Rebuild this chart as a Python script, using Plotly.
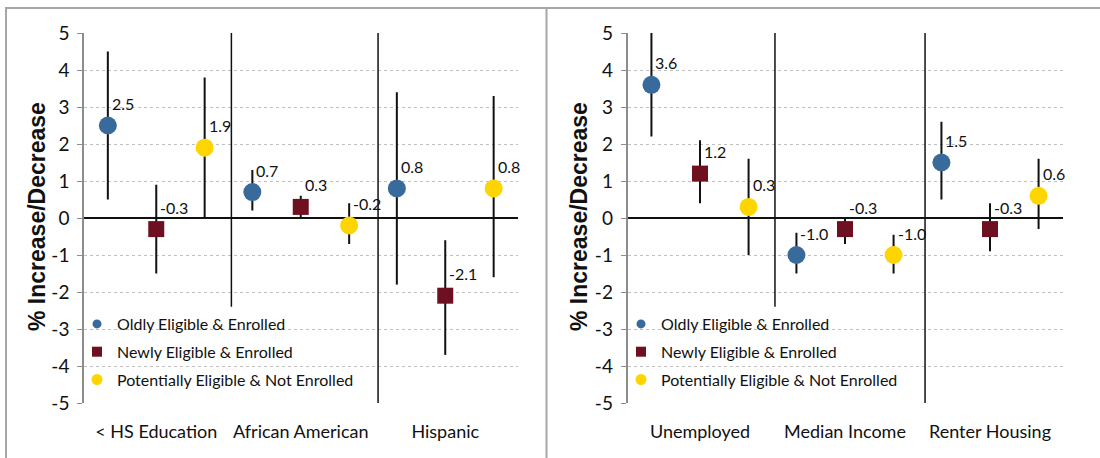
import plotly.graph_objects as go

# ---------------- data ----------------
left_categories = ["< HS Education", "African American", "Hispanic"]
right_categories = ["Unemployed", "Median Income", "Renter Housing"]
series_names = ["Oldly Eligible & Enrolled", "Newly Eligible & Enrolled",
                "Potentially Eligible & Not Enrolled"]

# left panel
left_oldly = [2.5, 0.7, 0.8]
left_oldly_low = [0.5, 0.2, -1.8]
left_oldly_high = [4.5, 1.3, 3.4]
left_newly = [-0.3, 0.3, -2.1]
left_newly_low = [-1.5, 0.0, -3.7]
left_newly_high = [0.9, 0.6, -0.6]
left_potential = [1.9, -0.2, 0.8]
left_potential_low = [0.0, -0.7, -1.6]
left_potential_high = [3.8, 0.4, 3.3]

# right panel
right_oldly = [3.6, -1.0, 1.5]
right_oldly_low = [2.2, -1.5, 0.5]
right_oldly_high = [5.0, -0.4, 2.6]
right_newly = [1.2, -0.3, -0.3]
right_newly_low = [0.4, -0.7, -0.9]
right_newly_high = [2.1, 0.0, 0.4]
right_potential = [0.3, -1.0, 0.6]
right_potential_low = [-1.0, -1.5, -0.3]
right_potential_high = [1.6, -0.45, 1.6]

y_ticks = [-5, -4, -3, -2, -1, 0, 1, 2, 3, 4, 5]
y_tick_text = ["-5", "-4", "-3", "-2", "-1", "0", "1", "2", "3", "4", "5"]

# ---------------- style ----------------
W, H = 1100, 458
FONT = "Lato, Liberation Sans, Arial"
COLORS = ["#386a9b", "#6f1020", "#ffd500"]
SYMBOLS = ["circle", "square", "circle"]
SIZES = [18, 16, 18]
LEG_SIZES = [9, 10, 11]
OFFSETS = [-0.335, 0.0, 0.335]
BORDER = "#a6a6a6"
TXT = "#111111"

panels = [
    dict(xa="x", ya="y", legend="legend", cats=left_categories,
         series=[(left_oldly, left_oldly_low, left_oldly_high),
                 (left_newly, left_newly_low, left_newly_high),
                 (left_potential, left_potential_low, left_potential_high)]),
    dict(xa="x2", ya="y2", legend="legend2", cats=right_categories,
         series=[(right_oldly, right_oldly_low, right_oldly_high),
                 (right_newly, right_newly_low, right_newly_high),
                 (right_potential, right_potential_low, right_potential_high)]),
]

fig = go.Figure()
annotations = []
for p in panels:
    for s, (vals, lows, highs) in enumerate(p["series"]):
        xs = [i + OFFSETS[s] for i in range(len(vals))]
        fig.add_trace(go.Scatter(
            x=xs, y=vals, mode="markers", xaxis=p["xa"], yaxis=p["ya"],
            showlegend=False, cliponaxis=False, hoverinfo="skip",
            marker=dict(symbol=SYMBOLS[s], size=SIZES[s], color=COLORS[s],
                        line=dict(width=0)),
            error_y=dict(type="data", symmetric=False,
                         array=[h - v for v, h in zip(vals, highs)],
                         arrayminus=[v - l for v, l in zip(vals, lows)],
                         color=TXT, thickness=2, width=0),
        ))
        for x, v in zip(xs, vals):
            annotations.append(dict(
                x=x, y=v, xref=p["xa"], yref=p["ya"], text=f"{v:.1f}",
                showarrow=False, xanchor="left", yanchor="middle",
                xshift=2, yshift=22, font=dict(size=16, family=FONT, color=TXT)))
    for s, name in enumerate(series_names):
        fig.add_trace(go.Scatter(
            x=[None], y=[None], mode="markers", name=name, legend=p["legend"],
            legendgroup=f"{p['legend']}_{s}",
            xaxis=p["xa"], yaxis=p["ya"],
            marker=dict(symbol=SYMBOLS[s], size=LEG_SIZES[s], color=COLORS[s]),
        ))

# y-axis titles
for xpix in (37, 579):
    annotations.append(dict(
        x=xpix / W, y=(H - 217) / H, xref="paper", yref="paper",
        text="<b>% Increase/Decrease</b>", textangle=-90, showarrow=False,
        xanchor="center", yanchor="middle",
        font=dict(size=23, family="Liberation Sans, Arial", color=TXT)))

def xaxis(domain, cats, anchor):
    return dict(domain=domain, range=[-0.5, 2.5], tickvals=[0, 1, 2], ticktext=cats,
                showgrid=False, zeroline=False, showline=False, ticks="",
                ticklabelstandoff=16, anchor=anchor, automargin=False,
                tickfont=dict(size=18, family=FONT, color=TXT))

def yaxis(anchor):
    return dict(domain=[(H - 403) / H, (H - 33) / H], range=[-5, 5],
                tickvals=y_ticks, ticktext=y_tick_text, automargin=False,
                showgrid=True, gridcolor="#bfbfbf", griddash="dot", gridwidth=1,
                zeroline=True, zerolinecolor=TXT, zerolinewidth=2,
                showline=True, linecolor="#8c8c8c", linewidth=1.5,
                ticks="outside", ticklen=5, tickcolor="#8c8c8c", anchor=anchor,
                ticklabelstandoff=4,
                tickfont=dict(size=19, family=FONT, color=TXT))

shapes = [
    # panel borders
    dict(type="line", xref="paper", yref="paper", x0=5 / W, x1=1, y0=(H - 8) / H, y1=(H - 8) / H,
         line=dict(color=BORDER, width=2)),
    dict(type="line", xref="paper", yref="paper", x0=6 / W, x1=6 / W, y0=0, y1=(H - 8) / H,
         line=dict(color=BORDER, width=2)),
    dict(type="line", xref="paper", yref="paper", x0=546.5 / W, x1=546.5 / W, y0=0, y1=(H - 8) / H,
         line=dict(color=BORDER, width=2)),
    # category separators
    dict(type="line", xref="x", yref="y", x0=0.52, x1=0.52, y0=-2.4, y1=5.05,
         line=dict(color=TXT, width=1.5)),
    dict(type="line", xref="x", yref="y", x0=1.535, x1=1.535, y0=-5.05, y1=5.05,
         line=dict(color=TXT, width=1.5)),
    dict(type="line", xref="x2", yref="y2", x0=0.517, x1=0.517, y0=-2.4, y1=5.05,
         line=dict(color=TXT, width=1.5)),
    dict(type="line", xref="x2", yref="y2", x0=1.552, x1=1.552, y0=-5.0, y1=5.15,
         line=dict(color=TXT, width=1.5)),
]

legend_common = dict(xanchor="left", yanchor="top", bgcolor="rgba(0,0,0,0)",
                     font=dict(size=16, family=FONT, color=TXT),
                     tracegroupgap=4, itemwidth=30, traceorder="grouped")

fig.update_layout(
    template="none",
    width=W, height=H, margin=dict(l=0, r=0, t=0, b=0, autoexpand=False),
    autosize=False,
    paper_bgcolor="white", plot_bgcolor="white",
    xaxis=xaxis([84 / W, 517.5 / W], left_categories, "y"),
    yaxis=yaxis("x"),
    xaxis2=xaxis([627.5 / W, 1062.5 / W], right_categories, "y2"),
    yaxis2=yaxis("x2"),
    legend=dict(x=77 / W, y=(H - 307) / H, **legend_common),
    legend2=dict(x=621 / W, y=(H - 307) / H, **legend_common),
    annotations=annotations, shapes=shapes,
)

fig.write_html("out.html", config={"displayModeBar": False},
               post_script="document.body.style.margin='0';")
